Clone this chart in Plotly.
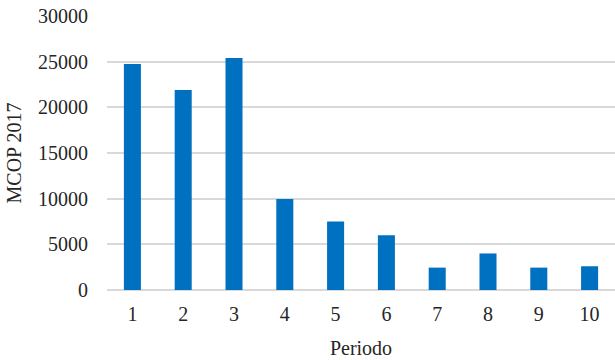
import plotly.graph_objects as go

# MCOP 2017 by period
periodos = ["1", "2", "3", "4", "5", "6", "7", "8", "9", "10"]
mcop = [24750, 21900, 25400, 9950, 7500, 6000, 2450, 4000, 2450, 2600]
y_ticks = [0, 5000, 10000, 15000, 20000, 25000, 30000]

serif = "Liberation Serif, Times New Roman, serif"
txt = "#262626"

fig = go.Figure(
    go.Bar(
        x=periodos,
        y=mcop,
        marker=dict(color="#0070C0", line=dict(width=0)),
    )
)

fig.update_layout(
    width=615,
    height=360,
    margin=dict(l=107, r=0, t=16, b=70),
    paper_bgcolor="white",
    plot_bgcolor="white",
    bargap=0.665,
    showlegend=False,
    font=dict(family=serif, size=20, color=txt),
)

fig.update_xaxes(
    type="category",
    title=dict(text="Periodo", font=dict(family=serif, size=20, color=txt), standoff=16),
    tickfont=dict(family=serif, size=20, color=txt),
    showgrid=False,
    showline=False,
    ticks="",
    ticklabelstandoff=10,
)

fig.update_yaxes(
    range=[0, 30000],
    tickvals=y_ticks,
    ticktext=[str(v) for v in y_ticks],
    tickfont=dict(family=serif, size=20, color=txt),
    title=dict(text="MCOP 2017", font=dict(family=serif, size=20, color=txt), standoff=11),
    showgrid=True,
    gridcolor="#D9D9D9",
    gridwidth=1.5,
    zeroline=True,
    zerolinecolor="#D9D9D9",
    zerolinewidth=1.5,
    ticks="",
    ticklabelstandoff=18,
)

fig.write_html("out.html")
